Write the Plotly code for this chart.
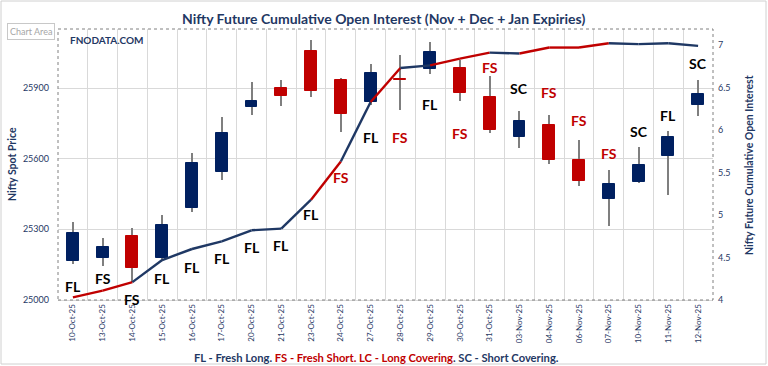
import plotly.graph_objects as go

# ---------------- data ----------------
dates = ["10-Oct-25", "13-Oct-25", "14-Oct-25", "15-Oct-25", "16-Oct-25", "17-Oct-25",
         "20-Oct-25", "21-Oct-25", "23-Oct-25", "24-Oct-25", "27-Oct-25", "28-Oct-25",
         "29-Oct-25", "30-Oct-25", "31-Oct-25", "03-Nov-25", "04-Nov-25", "06-Nov-25",
         "07-Nov-25", "10-Nov-25", "11-Nov-25", "12-Nov-25"]

open_px = [25167, 25177, 25273, 25180, 25389, 25542, 25819, 25901, 26057, 25932, 25839,
           25938, 25979, 25983, 25863, 25693, 25744, 25593, 25429, 25500, 25613, 25829]
high_px = [25330, 25262, 25304, 25361, 25623, 25778, 25927, 25934, 26103, 25941, 26002,
           26040, 26096, 26019, 25951, 25802, 25785, 25679, 25550, 25648, 25717, 25932]
low_px = [25152, 25144, 25075, 25165, 25372, 25509, 25785, 25823, 25863, 25714, 25827,
          25806, 25958, 25846, 25707, 25644, 25576, 25485, 25314, 25495, 25446, 25780]
close_px = [25283, 25226, 25137, 25318, 25583, 25710, 25845, 25867, 25888, 25791, 25965,
            25934, 26053, 25877, 25721, 25761, 25593, 25506, 25491, 25573, 25693, 25876]

cum_oi = [4.03, 4.11, 4.21, 4.47, 4.60, 4.69, 4.82, 4.84, 5.18, 5.63, 6.33,
          6.73, 6.76, 6.84, 6.91, 6.90, 6.97, 6.97, 7.02, 7.01, 7.02, 6.99]

signals = ["FL", "FS", "FS", "FL", "FL", "FL", "FL", "FL", "FL", "FS", "FL",
           "FS", "FL", "FS", "FS", "SC", "FS", "FS", "FS", "SC", "FL", "SC"]
# level (in spot-price units) of the hidden label series
signal_level = [25059, 25093, 25004, 25093, 25140, 25178, 25225, 25233, 25365, 25518, 25688,
                25688, 25832, 25705, 25985, 25896, 25879, 25760, 25624, 25717, 25785, 26006]

left_ticks = [25000, 25300, 25600, 25900]
right_ticks = [4, 4.5, 5, 5.5, 6, 6.5, 7]

# ---------------- styles ----------------
NAVY = "#1F3864"
BLUE = "#002060"
RED = "#C00000"
GRID = "#D9D9D9"
WICK = "#7F7F7F"
FONT = "Lato"
label_colors = ["#000000", "#000000", "#000000"] + [RED if s == "FS" else "#000000" for s in signals[3:]]

body_colors = [BLUE if c >= o else RED for o, c in zip(open_px, close_px)]

fig = go.Figure()

# wicks
fig.add_trace(go.Bar(
    x=dates, y=[h - l for h, l in zip(high_px, low_px)], base=low_px,
    width=0.035, marker=dict(color=WICK, line=dict(width=0)),
    showlegend=False, hoverinfo="skip"))
# bodies
fig.add_trace(go.Bar(
    x=dates, y=[abs(c - o) for o, c in zip(open_px, close_px)],
    base=[min(o, c) for o, c in zip(open_px, close_px)],
    width=0.4, marker=dict(color=body_colors, line=dict(color=body_colors, width=1)),
    showlegend=False, hoverinfo="skip"))

# cumulative OI line, coloured by signal of the ending day
for i in range(1, len(dates)):
    col = RED if signals[i] == "FS" else NAVY
    fig.add_trace(go.Scatter(
        x=[dates[i - 1], dates[i]], y=[cum_oi[i - 1], cum_oi[i]],
        mode="lines", line=dict(color=col, width=2.4),
        yaxis="y2", showlegend=False, hoverinfo="skip"))

annotations = []
for d, s, lv, c in zip(dates, signals, signal_level, label_colors):
    annotations.append(dict(x=d, y=lv, xref="x", yref="y", text=f"<b>{s}</b>",
                            showarrow=False, font=dict(family=FONT, size=14, color=c)))

annotations += [
    dict(x=(383 - 58) / 655, y=(300 - 18) / 271, xref="paper", yref="paper", xanchor="center",
         yanchor="middle",
         text="<b>Nifty Future Cumulative Open Interest (Nov + Dec + Jan Expiries)</b>",
         showarrow=False, font=dict(family=FONT, size=14, color=NAVY)),
    dict(x=10 / 655, y=(300 - 40.5) / 271, xref="paper", yref="paper", xanchor="left", yanchor="middle",
         text="<b>FNODATA.COM</b>", showarrow=False, font=dict(family=FONT, size=10, color=NAVY)),
    dict(x=(7 - 58) / 655, y=(300 - 31.5) / 271, xref="paper", yref="paper", xanchor="left",
         yanchor="middle", text="Chart Area", showarrow=False, bgcolor="white",
         bordercolor="#C8C8C8", borderwidth=1, borderpad=2,
         font=dict(family=FONT, size=9, color="#A6A6A6")),
    dict(x=(12 - 58) / 655, y=(300 - 164) / 271, xref="paper", yref="paper", xanchor="center",
         yanchor="middle", textangle=-90, text="<b>Nifty Spot Price</b>", showarrow=False,
         font=dict(family=FONT, size=10.5, color=NAVY)),
    dict(x=(749 - 58) / 655, y=(300 - 165) / 271, xref="paper", yref="paper", xanchor="center",
         yanchor="middle", textangle=-90, text="<b>Nifty Future Cumulative Open Interest</b>",
         showarrow=False, font=dict(family=FONT, size=10.5, color=NAVY)),
    dict(x=(376 - 58) / 655, y=(300 - 357) / 271, xref="paper", yref="paper", xanchor="center",
         yanchor="middle", showarrow=False, font=dict(family=FONT, size=11.2, color=NAVY),
         text=("<b><span style='color:#1F3864'>FL - Fresh Long. </span>"
               "<span style='color:#C00000'>FS - Fresh Short. LC - Long Covering</span>"
               "<span style='color:#1F3864'>. SC - Short Covering.</span></b>")),
]

shapes = [
    dict(type="rect", xref="paper", yref="paper", x0=0, x1=1, y0=0, y1=1,
         line=dict(color="#808080", width=1, dash="dot"), layer="above"),
    dict(type="rect", xref="paper", yref="paper",
         x0=(1 - 58) / 655, x1=(766 - 58) / 655, y0=(300 - 364) / 271, y1=(300 - 1) / 271,
         line=dict(color="#D0D0D0", width=1), layer="below"),
]

fig.update_layout(
    width=768, height=366,
    margin=dict(l=58, r=55, t=29, b=66, autoexpand=False),
    paper_bgcolor="white", plot_bgcolor="white",
    barmode="overlay", bargap=0,
    font=dict(family=FONT, color=NAVY),
    annotations=annotations, shapes=shapes,
    xaxis=dict(type="category", tickson="boundaries", showgrid=True, gridcolor=GRID,
               gridwidth=1, tickangle=-90, ticks="", showline=True, linecolor=GRID,
               tickfont=dict(family=FONT, size=8, color=NAVY), range=[-0.5, len(dates) - 0.5],
               fixedrange=True),
    yaxis=dict(range=[25000, 25000 + 271 * 900 / 212], tickvals=left_ticks, tickformat="d",
               showgrid=True, gridcolor=GRID, zeroline=False, ticks="",
               ticklabelstandoff=8, tickfont=dict(family=FONT, size=9, color=NAVY)),
    yaxis2=dict(range=[4, 4 + 271 / 85], tickvals=right_ticks, overlaying="y", side="right",
                showgrid=False, zeroline=False, ticks="", ticklabelstandoff=4,
                tickfont=dict(family=FONT, size=9, color=NAVY)),
)

fig.write_html("out.html", config={"displayModeBar": False},
               post_script="document.body.style.margin='0';")
